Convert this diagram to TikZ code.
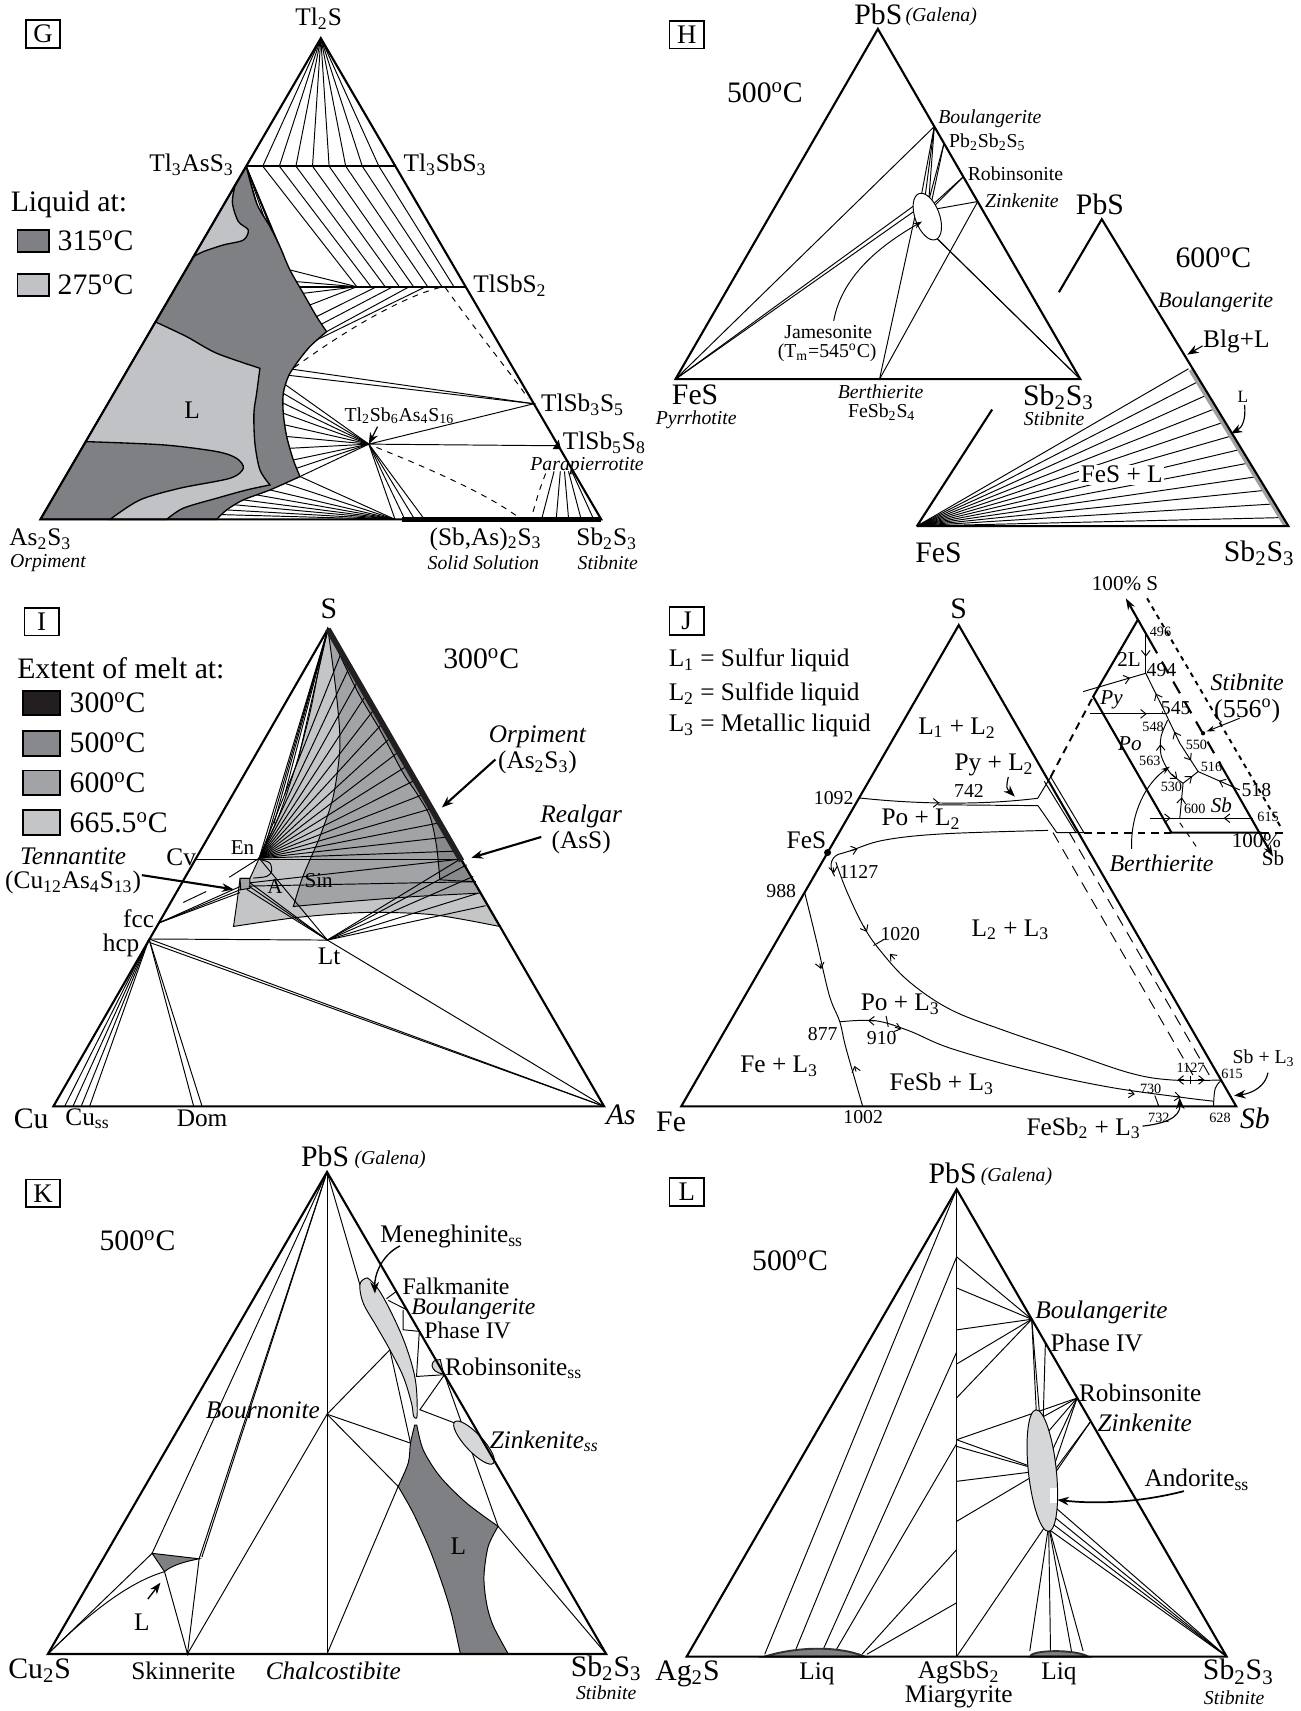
\documentclass[tikz,border=0pt]{standalone}
\usepackage{fontspec}
\setmainfont{Liberation Serif}
\usepackage{tikz}
\usetikzlibrary{arrows.meta,positioning,calc,decorations.markings}
\definecolor{liqdark}{RGB}{127,128,131}
\definecolor{liqlight}{RGB}{193,194,197}
\definecolor{meltblack}{RGB}{35,31,32}
\definecolor{meltfive}{RGB}{136,137,140}
\definecolor{meltsix}{RGB}{162,163,166}
\definecolor{meltsixsix}{RGB}{196,197,199}
\definecolor{ssfill}{RGB}{214,215,217}
\newcommand{\fsA}{\fontsize{15.5}{17}\selectfont}
\newcommand{\fsB}{\fontsize{13.2}{15}\selectfont}
\newcommand{\fsK}{\fontsize{12.4}{14}\selectfont}
\newcommand{\fsM}{\fontsize{11}{12.5}\selectfont}
\newcommand{\fsC}{\fontsize{10.3}{12}\selectfont}
\newcommand{\fsD}{\fontsize{7.4}{8.5}\selectfont}
\newcommand{\lo}[1]{\textsubscript{#1}}
\newcommand{\degC}{\textsuperscript{o}C}

\begin{document}
\begin{tikzpicture}[x=0.02cm,y=-0.02cm,
  every node/.style={inner sep=0.3pt},
  tri/.style={line width=1.1pt},
  tie/.style={line width=0.5pt},
  bnd/.style={line width=0.7pt},
  vtx/.style={font=\fsA},
  lbl/.style={font=\fsB},
  ilbl/.style={font=\fsB\itshape},
  klbl/.style={font=\fsK},
  kilbl/.style={font=\fsK\itshape},
  mlbl/.style={font=\fsM},
  milbl/.style={font=\fsM\itshape},
  slbl/.style={font=\fsC},
  sital/.style={font=\fsC\itshape},
  tnum/.style={font=\fsD},
  panel/.style={draw,line width=0.9pt,font=\fontsize{14}{16}\selectfont,inner sep=0pt,minimum width=18pt,minimum height=14.5pt},
  key/.style={draw,line width=0.9pt},
  ptr/.style={-{Stealth[length=6pt,width=4.5pt]},line width=0.9pt},
  tip/.style={line width=0.5pt,-{Straight Barb[length=2.8pt,width=4.5pt]}},
  fwd/.style={postaction={decorate,decoration={markings,mark=at position #1 with {\arrow{Straight Barb[length=2.8pt,width=4.5pt]}}}}},
  bwd/.style={postaction={decorate,decoration={markings,mark=at position #1 with {\arrowreversed{Straight Barb[length=2.8pt,width=4.5pt]}}}}}]
\fill[white] (0,0) rectangle (1192,1568);
\useasboundingbox (0,0) rectangle (1192,1568);

\node[panel] (boxG) at (39.5,31) {G};
\coordinate (gT) at (294,35);
\coordinate (gA) at (37,476);
\coordinate (gB) at (551,476);
\coordinate (gAs) at (225.6,152.3);
\coordinate (gSb) at (362.4,152.3);
\coordinate (gTlSbS) at (426.8,262.8);
\coordinate (gThree) at (489.2,370);
\coordinate (gFive) at (511.7,408.5);
\coordinate (gX) at (338,407);
\coordinate (gR) at (362,476);
\coordinate (gC) at (327,262.8);
\foreach \x/\y in {240.8/327,256/340,271.2/353,286.4/366,301.6/379,316.8/392,332/405,347.2/416}
  \draw[tie] (gT) -- (\x,152.3) -- (\y,262.8);
\foreach \x/\y in {235.2/186.3,241.3/197,247.4/207.7,252/216.9,256.5/226}
  \draw[tie] (gAs) -- ($(gAs)!1.12!(\x,\y)$);
\foreach \x/\y in {265.7/247.4,271.8/258.1,277.9/268.8,284/279.5}
  \draw[tie] (gC) -- ($(gC)!1.08!(\x,\y)$);
\draw[tri] (262,262.8) -- (gTlSbS);
\foreach \a/\x/\y in {345/290.1/290.1,360/294.7/297,375/299.3/303.9,390/291.7/310.8}
  \draw[tie] (\a,262.8) -- ($(\a,262.8)!1.06!(\x,\y)$);
\draw[tie,dashed] (403,263.5) .. controls (370,272) and (320,300) .. (268,338);
\draw[tie,dashed] (408,263.5) .. controls (440,308) and (468,342) .. (484,365);
\draw[tie] ($(gThree)!1.04!(268.9,338.5)$) -- (gThree) -- (gX) -- (gFive);
\draw[tie] ($(gThree)!1.04!(265,344)$) -- (gThree);
\foreach \x/\y in {261.9/352.8,259.6/360.4,259.6/369.5,259.6/378.7,261.2/389.4,262.7/400,265.8/410.8,268.8/421.5,271.9/429.1,274.9/436.7}
  \draw[tie] (gX) -- ($(gX)!1.06!(\x,\y)$);
\foreach \x/\y in {274.9/436.7,261/442.9,247.4/449,235/453.5,223/458.1,215/462.6,207.7/467.3,203/471.6}
  \draw[tie] (gR) -- ($(gR)!1.06!(\x,\y)$);
\foreach \x in {371,380,389} \draw[tie] (gX) -- (\x,476);
\draw[tie] (gX) -- (gR);
\draw[tie,dashed] (345,410) .. controls (400,432) and (450,455) .. (475,474);
\draw[tie,dashed] (500,434) .. controls (494,450) .. (487,474);
\foreach \a/\b in {507.8/496.3,513.5/509.7,517.3/521.1,521/532.6,524/544.1}
  \draw[tie] (\a,431.9) -- (\b,476);
\filldraw[fill=liqdark,bnd] (gAs) -- (gA) -- (198.5,476)
  -- plot[smooth,tension=0.5] coordinates {(198.5,476) (207.7,467.3) (223,458.1) (247.4,449) (274.9,436.7)}
  -- plot[smooth,tension=0.5] coordinates {(274.9,436.7) (268.8,421.5) (262.7,400) (259.6,378.7) (259.6,360.4) (264.2,345.1) (271.8,332.9) (284,317.6) (299.3,303.9)}
  -- plot[smooth,tension=0.5] coordinates {(299.3,303.9) (290.1,290.1) (277.9,268.8) (265.7,247.4) (256.5,226) (247.4,207.7) (235.2,186.3) (225.6,152.3)}
  -- cycle;
\filldraw[fill=liqlight,bnd] (215.3,170)
  -- plot[smooth,tension=0.5] coordinates {(215.3,170) (213,186) (218.4,203) (227.5,210.7) (223,220) (204.6,224.5) (186.3,230.6) (177.3,235.2)} -- cycle;
\filldraw[fill=liqlight,bnd] (142.5,295)
  -- plot[smooth,tension=0.5] coordinates {(142.5,295) (171,308.5) (198.5,323.7) (238.2,337.5)}
  -- plot[smooth,tension=0.5] coordinates {(238.2,337.5) (235.2,360.4) (232.7,378.7) (233.6,406.2) (238.2,430.6) (247.4,444.4)}
  -- plot[smooth,tension=0.5] coordinates {(247.4,444.4) (226,449) (198.5,456.6) (168,465.7) (152.7,476)}
  -- (100.8,476)
  -- plot[smooth,tension=0.5] coordinates {(100.8,476) (128.3,458.1) (164.9,447.4) (210.7,438.3) (223,429.1) (216.8,420) (198.5,413.8) (149.7,407.7) (78.5,404.7)}
  -- cycle;
\draw[tri] (gT) -- (gA) -- (gB) -- cycle;
\draw[tri] (gAs) -- (gSb);
\draw[line width=3pt] (368,476) -- (gB);
\fill (506.5,411.5) -- (514,411.5) -- (512,403) -- cycle;
\node[lbl] (gTlS) at (292,17) {Tl\lo{2}S};
\node[lbl,anchor=east] (gTlAsS) at (215,151) {Tl\lo{3}AsS\lo{3}};
\node[lbl,anchor=west] (gTlSbSt) at (369,151) {Tl\lo{3}SbS\lo{3}};
\node[lbl,anchor=west] (gTlSbSl) at (433,262) {TlSbS\lo{2}};
\node[lbl,anchor=west] (gThreel) at (495,371) {TlSb\lo{3}S\lo{5}};
\node[lbl,anchor=west] (gFivel) at (515,406) {TlSb\lo{5}S\lo{8}};
\node[sital] (gPara) at (538,427) {Parapierrotite};
\node[slbl] (gMix) at (366,381) {Tl\lo{2}Sb\lo{6}As\lo{4}S\lo{16}};
\draw[ptr,line width=0.6pt] (346,391) -- (gX);
\node[lbl] (gL) at (176,376) {L};
\node[lbl] (gAsl) at (37,494) {As\lo{2}S\lo{3}};
\node[sital] (gOrp) at (44,516) {Orpiment};
\node[lbl] (gSS) at (445,494) {(Sb,As)\lo{2}S\lo{3}};
\node[sital] (gSSi) at (443,516) {Solid Solution};
\node[lbl] (gSbl) at (556,494) {Sb\lo{2}S\lo{3}};
\node[sital] (gStib) at (557,516) {Stibnite};
\node[vtx,anchor=west] (gLeg) at (9,187) {Liquid at:};
\draw[key,fill=liqdark] (16,211) rectangle (45,231);
\node[vtx,anchor=west] (gKa) at (52,221) {315\degC};
\draw[key,fill=liqlight] (16,251) rectangle (45,271);
\node[vtx,anchor=west] (gKb) at (52,261) {275\degC};

\node[panel] (boxH) at (629.3,31.8) {H};
\coordinate (hP) at (804.5,26.5);
\coordinate (hF) at (619,347.5);
\coordinate (hS) at (990,347.5);
\coordinate (hBo) at (856.2,116);
\coordinate (hPb) at (865.1,131.3);
\coordinate (hRo) at (883,161.8);
\coordinate (hZi) at (896,184.7);
\coordinate (hBe) at (806,347.5);
\coordinate (hJ) at (849.8,198.5);
\draw[tie] (hF) -- (hBo);
\draw[tie] (hF) -- (841,186);
\draw[tie] (hF) -- (840,192);
\draw[tie] (hS) -- (850,210);
\draw[tie] (hS) -- (853,213);
\draw[tie] (hBe) -- (842,182);
\draw[tie] (hBe) -- (hZi);
\foreach \x in {843,847,851} \draw[tie] (hBo) -- (\x,186);
\foreach \x in {850,853} \draw[tie] (hPb) -- (\x,188);
\foreach \x in {852,855} \draw[tie] (hRo) -- (\x,190);
\draw[tie] (hZi) -- (855,192);
\draw[tie,fill=white,rotate around={20:(hJ)}] (hJ) ellipse [x radius=11.2, y radius=22.4];
\draw[tie,-{Stealth[length=4.5pt,width=3pt]}] (764,294) .. controls (772,250) and (812,222) .. (845,203);
\draw[tri] (hP) -- (hF) -- (hS) -- cycle;
\node[vtx] (hPbS) at (805,13) {PbS};
\node[sital,anchor=west] (hGal) at (829,15) {(Galena)};
\node[vtx] (hT) at (701,85) {500\degC};
\node[sital,anchor=west] (hBol) at (859,109) {Boulangerite};
\node[slbl,anchor=west] (hPbl) at (869,130) {Pb\lo{2}Sb\lo{2}S\lo{5}};
\node[slbl,anchor=west] (hRol) at (886,159) {Robinsonite};
\node[sital,anchor=west] (hZil) at (902,184) {Zinkenite};
\node[slbl] (hJam) at (759,304) {Jamesonite};
\node[slbl] (hTm) at (758,323) {(T\lo{m}=545\degC)};
\node[vtx] (hFeS) at (637,362) {FeS};
\node[sital] (hPyr) at (638,385) {Pyrrhotite};
\node[sital] (hBer) at (807,359) {Berthierite};
\node[slbl] (hFSS) at (808,378) {FeSb\lo{2}S\lo{4}};
\node[vtx] (hSbl) at (970,364) {Sb\lo{2}S\lo{3}};
\node[sital] (hStib) at (966,384) {Stibnite};
\coordinate (hFb) at (840.3,482.1);
\coordinate (hSb) at (1180.7,482.1);
\coordinate (hPc) at (1009.7,200.9);
\foreach \k in {0,...,11}
  \draw[tie] (hFb) -- ({1093.1+\k*12.4*0.608-4},{338+\k*12.4});
\draw[line width=2.2pt,color=gray!75] (1091,339) -- (1178,481.5);
\draw[tri] (hFb) -- (909.2,375.3);
\draw[tri] (970.4,267.8) -- (hPc) -- (hSb) -- (hFb);
\node[vtx] (hPbSb) at (1008,187) {PbS};
\node[vtx] (hTb) at (1112,236) {600\degC};
\node[font=\fontsize{11.5}{13}\selectfont\itshape] (hBolb) at (1114,277) {Boulangerite};
\node[lbl] (hBlg) at (1133,313) {Blg+L};
\draw[ptr,line width=0.6pt] (1102,317) -- (1088,325);
\node[font=\fontsize{9}{10}\selectfont] (hLs) at (1139,364) {L};
\draw[ptr,line width=0.6pt] (1140.5,371) .. controls (1142,385) and (1138,392) .. (1128,397.5);
\node[lbl,fill=white,inner sep=0.8pt] (hFL) at (1028,435) {FeS + L};
\node[vtx] (hFeSb) at (860,507) {FeS};
\node[vtx] (hSbb) at (1154,507) {Sb\lo{2}S\lo{3}};

\node[panel] (boxI) at (38.2,569.7) {I};
\coordinate (iS) at (300.5,576.5);
\coordinate (iCu) at (48.9,1013.9);
\coordinate (iAs) at (553.6,1013.9);
\coordinate (iCv) at (178.6,787.3);
\coordinate (iEn) at (237.5,786.5);
\coordinate (iRg) at (421.8,787.3);
\coordinate (iLt) at (300,861.5);
\coordinate (ifcc) at (145,846);
\coordinate (ihcp) at (136.6,860.5);
\filldraw[fill=meltsixsix,line width=0.5pt] (300.5,576.5)
  -- plot[smooth,tension=0.5] coordinates {(300.5,576.5) (293.2,607.7) (284,653.5) (271.8,699.4) (256.5,745.2) (244.3,772.7) (237.5,786.5)}
  -- (229,805) -- (220,805) -- (217,828) -- (214,849)
  -- plot[smooth,tension=0.5] coordinates {(214,849) (274.9,840.5) (335.9,836.2) (397,838.3) (457.7,849)} -- cycle;
\filldraw[fill=meltsix,line width=0.5pt] (300.5,576.5)
  -- plot[smooth,tension=0.5] coordinates {(300.5,576.5) (308.5,638.3) (311.5,684.1) (305.4,729.9) (293.2,766.5) (284,788) (276.4,806.3) (268.8,830.7)}
  -- plot[smooth,tension=0.5] coordinates {(268.8,830.7) (320.7,826.1) (381.8,821.5) (440.1,818.5)} -- cycle;
\filldraw[fill=meltfive,line width=0.5pt] (300.5,576.5)
  -- plot[smooth,tension=0.5] coordinates {(300.5,576.5) (326.8,632.2) (348.2,668.8) (369.5,708.5) (381.8,726.9) (394,748.2) (400.1,775.7) (403.1,806.3)}
  -- (434,808) -- cycle;
\filldraw[fill=meltsix,line width=0.5pt] (220,805) -- (229,805) -- (229,814) -- (220.5,815.4) -- cycle;
\foreach \x/\y in {237.5/786.5,244/772,251/755,261/728,274/693} \draw[tie] (iS) -- (\x,\y);
\foreach \y in {598,611,624,637,650,663,676,689,702,715,728,741,754,767,780}
  \draw[tie] (iEn) -- ({300.5+(\y-576.5)*0.577},\y);
\foreach \x/\y in {421.8/787.3,427.6/792.5,433.7/803.2,438.3/818.5,445/830} \draw[tie] (iLt) -- (\x,\y);
\draw[tie] (iEn) -- (iLt);
\draw[tie] (iEn) -- (210,804);
\foreach \x/\y in {229/809,228/812,226/815} \draw[tie] (\x,\y) -- (iLt);
\draw[tie] (229,809) -- (iRg);
\draw[tie] (229,812) -- (436,808);
\foreach \x/\y in {221/812,221/815,220/818} \draw[tie] (ifcc) -- (\x,\y);
\draw[tie] (168,827) -- (189,817);
\draw[tie] (ihcp) -- (iLt);
\draw[tie] (ihcp) -- (iAs);
\draw[tie] (138,864) -- (iAs);
\draw[tie] (iLt) -- (iAs);
\foreach \x in {59.2,66.8,74.4,82.1,177.5,185.2} \draw[tie] (ihcp) -- (\x,1013.9);
\draw[tie] (iCv) -- (iRg);
\draw[tie] plot[smooth] coordinates {(239.7,788) (247.4,791) (248.9,798.6) (244.3,803.2) (232.1,804.7)};
\draw[tri] (iS) -- (iCu) -- (iAs) -- cycle;
\draw[line width=3pt,color=meltblack] (iS) -- (423,789);
\draw[ptr,line width=1.1pt] (454,696) -- (405,740);
\draw[ptr,line width=1.1pt] (496,767) -- (432,786);
\draw[ptr,line width=1.1pt] (130,802) -- (214,815);
\node[vtx] (iSl) at (301.5,558) {S};
\node[vtx] (iT) at (441,604) {300\degC};
\node[vtx,anchor=west] (iLeg) at (15,612) {Extent of melt at:};
\draw[key,fill=meltblack] (21,633) rectangle (55,655);
\node[vtx,anchor=west] (iKa) at (63,644) {300\degC};
\draw[key,fill=meltfive] (21,670) rectangle (55,692.5);
\node[vtx,anchor=west] (iKb) at (63,681) {500\degC};
\draw[key,fill=meltsix] (21,706) rectangle (55,728.5);
\node[vtx,anchor=west] (iKc) at (63,717) {600\degC};
\draw[key,fill=meltsixsix] (21,742.5) rectangle (55,765);
\node[vtx,anchor=west] (iKd) at (63,754) {665.5\degC};
\node[ilbl] (iOrp) at (492.5,675) {Orpiment};
\node[lbl] (iOrpF) at (492.5,699) {(As\lo{2}S\lo{3})};
\node[ilbl] (iReal) at (532.6,748) {Realgar};
\node[lbl] (iRealF) at (532.6,772) {(AsS)};
\node[ilbl] (iTen) at (67,785) {Tennantite};
\node[lbl] (iTenF) at (67,809) {(Cu\lo{12}As\lo{4}S\lo{13})};
\node[lbl] (iCvl) at (166,786) {Cv};
\node[mlbl] (iEnl) at (222.3,777) {En};
\node[mlbl] (iAl) at (252,812.4) {A};
\node[mlbl] (iSinl) at (292,807) {Sin};
\node[lbl] (ifccl) at (127,842) {fcc};
\node[lbl] (ihcpl) at (111,866) {hcp};
\node[lbl] (iLtl) at (301.6,876.6) {Lt};
\node[vtx] (iCul) at (28.6,1025.3) {Cu};
\node[lbl] (iCss) at (80.2,1025.3) {Cu\lo{ss}};
\node[lbl] (iDom) at (185.2,1025.3) {Dom};
\node[vtx,font=\fsA\itshape] (iAsl) at (569,1022) {As};

\node[panel] (boxJ) at (629.3,568.9) {J};
\coordinate (jS) at (878.6,572.9);
\coordinate (jFe) at (624.3,1013.9);
\coordinate (jSb) at (1132.9,1013.9);
\coordinate (jA) at (787,731.2);
\coordinate (jFeS) at (758.4,781.3);
\coordinate (jB) at (737.4,817.8);
\coordinate (jC) at (769.6,936.4);
\coordinate (jD) at (790.6,1013.9);
\draw[tie,fwd=0.45] (jA) .. controls (840,737) and (900,738) .. (951.2,731.5);
\draw[tie] (859.5,737.5) -- (951.2,738.3);
\draw[tie] (951.2,738.3) -- (968.4,763) -- (993.3,763) -- (962.9,711.9) -- (951.2,731.2);
\draw[tie] (957,716) -- (986,763);
\draw[line width=1pt,dash pattern=on 4pt off 3pt] (962.9,711.9) -- (1001.8,638.3);
\draw[line width=1pt,dash pattern=on 4pt off 3pt] (993.3,763) -- (1073.5,763);
\draw[line width=1pt,dash pattern=on 4pt off 3pt] (1156,763) -- (1177,763);
\draw[tie,dash pattern=on 6pt off 4pt] (965,763) -- (1096,990);
\draw[tie,dash pattern=on 6pt off 4pt] (980,763) -- (1111,990);
\draw[tie] plot[smooth,tension=0.6] coordinates {(768,783) (779.2,779.7) (809.7,770) (863.3,764.2) (960.5,761)};
\draw[tip] (779,779.8) -- (786,777.7);
\draw[tie] (768,783) .. controls (760,787) and (760,796) .. (765,803);
\draw[tip] (763.5,795) -- (764.3,800);
\draw[tie] plot[smooth,tension=0.6] coordinates {(766,790) (775.3,815.2) (790.6,847.5) (805.9,870.2) (832.7,899.2) (870.9,925.1) (920.6,944.5) (978,963.9) (1035.4,983.3) (1073.6,989.7) (1119.5,989.7)};
\draw[tip] (791.6,848.8) -- (794.5,854);
\draw[tip] (820,879) -- (815.5,874.1);
\draw[tie] (800.5,866.5) -- (810,861);
\draw[tie] (1090.8,986) -- (1090.8,993.5);
\draw[tip] (1085,989.7) -- (1079,989.7);
\draw[tip] (1098,989.7) -- (1104,989.7);
\draw[tie] plot[smooth,tension=0.6] coordinates {(jB) (748.6,863.7) (760,912.2) (jC) (775.3,960.6) (jD)};
\draw[tip] (751.3,883) -- (752.4,888);
\draw[tip] (784.5,982) -- (783,976.8);
\draw[tie] plot[smooth,tension=0.6] coordinates {(jC) (802.1,935.4) (832.7,944.5) (870.9,960.6) (939.8,980) (1016.2,996.2) (1085.1,1005.9) (1111.8,1009.1)};
\draw[tip] (801,935.5) -- (795.5,935.3);
\draw[tie] (812,931) -- (814,941);
\draw[tip] (820,941.3) -- (826,943.1);
\draw[tip] (1034,1001.9) -- (1040,1002.7);
\draw[tip] (1076,1004.7) -- (1082,1005.5);
\draw[tie] (1119.5,989.7) .. controls (1113,996) .. (1112,1013.9);
\draw[tie] (1058.3,1004) -- (1062,1013.9);
\draw[tri] (jS) -- (jFe) -- (jSb) -- cycle;
\fill (jFeS) circle [radius=3.2];
\coordinate (jIa) at (1043,567.5);
\coordinate (jIb) at (1001.8,638.3);
\coordinate (jIc) at (1073.5,763);
\coordinate (jId) at (1156,763);
\draw[tri] (jIa) -- (jIb) -- (jIc) -- (jId);
\draw[line width=1pt,dash pattern=on 2.5pt off 2.5pt] (1051.2,548.3) -- (1175.2,760.5);
\draw[tri,{Stealth[length=6pt,width=4pt]}-] (1031.7,548.3) -- (1054.3,588);
\draw[tri,dash pattern=on 7pt off 5pt] (1054.3,588) -- (1121.3,705.5);
\draw[tri,-{Stealth[length=6pt,width=4pt]}] (1121.3,705.5) -- (1166.6,785);
\draw[tie,fwd=0.6] (1050,578.8) -- (1050,617);
\draw[tie,fwd=0.75] (992.6,633.8) -- (1050,617);
\draw[tie,bwd=0.5] (1050,617) -- (1068.3,654.2);
\draw[tie,fwd=0.75] (998.7,654.2) -- (1068.3,654.2);
\draw[tie,bwd=0.3,fwd=0.8] (1068.3,654.2) -- (1081.2,681.1) -- (1098,707.1);
\draw[tie] plot[smooth] coordinates {(1070,660) (1064,675) (1064,692) (1072,708) (1084.2,717.8)};
\draw[tip] (1063.7,688) -- (1063.5,682);
\draw[tip] (1074,709.6) -- (1079,713.8);
\draw[tie,fwd=0.6] (1084.2,717.8) -- (1098,707.1);
\draw[tie,fwd=0.6] (1081.2,749.8) -- (1084.2,717.8);
\draw[tie,fwd=0.5] (1136.1,723.9) -- (1098,707.1);
\draw[tie,fwd=0.4] (1148.4,749.8) -- (1081,749.8);
\draw[tie,fwd=0.7] (1053.7,749.8) -- (1081,749.8);
\draw[tie,dashed] (1081.2,754) -- (1096.4,776);
\draw[tie,-{Stealth[length=4.5pt,width=3pt]}] (1037,778) .. controls (1036,745) and (1050,718) .. (1072,702.5);
\fill (1102.5,672) circle [radius=2];
\draw[tie,-{Stealth[length=4.5pt,width=3pt]}] (1136.1,658.2) -- (1105.6,670.4);
\node[vtx] (jSl) at (878.6,558) {S};
\node[vtx] (jFel) at (615,1028) {Fe};
\node[vtx,font=\fsA\itshape] (jSbl) at (1150,1025) {Sb};
\node[lbl,anchor=west] (jLa) at (612,605) {L\lo{1} = Sulfur liquid};
\node[lbl,anchor=west] (jLb) at (612,636) {L\lo{2} = Sulfide liquid};
\node[lbl,anchor=west] (jLc) at (612,665) {L\lo{3} = Metallic liquid};
\node[lbl] (jRa) at (877,667) {L\lo{1} + L\lo{2}};
\node[lbl] (jRb) at (911,701) {Py + L\lo{2}};
\node[lbl] (jRc) at (844,751) {Po + L\lo{2}};
\node[lbl] (jRd) at (926,852) {L\lo{2} + L\lo{3}};
\node[lbl] (jRe) at (825,920) {Po + L\lo{3}};
\node[lbl] (jRf) at (714,977) {Fe + L\lo{3}};
\node[lbl] (jRg) at (863,993) {FeSb + L\lo{3}};
\draw[ptr,line width=0.6pt] (924,712) .. controls (922,722) .. (930,730);
\node[slbl] (jNa) at (764,731) {1092};
\node[lbl] (jFeSl) at (739,770) {FeS};
\node[slbl] (jNb) at (716,817) {988};
\node[slbl] (jNc) at (888,725) {742};
\node[slbl] (jNd) at (787,799) {1127};
\node[slbl] (jNe) at (825,856) {1020};
\node[slbl] (jNf) at (754,948) {877};
\node[slbl] (jNg) at (808,951) {910};
\node[slbl] (jNh) at (791,1024) {1002};
\node[tnum] (jNi) at (1091,979) {1127};
\node[tnum] (jNj) at (1054.5,998) {730};
\node[tnum] (jNk) at (1062,1024) {732};
\node[tnum] (jNl) at (1129,984) {615};
\node[tnum] (jNm) at (1118,1024) {628};
\node[slbl] (jSbL) at (1158,970) {Sb + L\lo{3}};
\draw[ptr,line width=0.6pt] (1162,983) .. controls (1160,995) and (1148,1002) .. (1131,1004);
\node[lbl] (jFeSb) at (993,1034) {FeSb\lo{2} + L\lo{3}};
\draw[ptr,line width=0.6pt] (1047,1032) .. controls (1065,1030) and (1082,1025) .. (1081,1006);
\node[mlbl] (jSh) at (1031,534.5) {100\% S};
\node[tnum] (jIna) at (1063.5,578.8) {496};
\node[mlbl] (jTwoL) at (1034.7,604) {2L};
\node[slbl] (jInb) at (1064.4,614) {494};
\node[milbl] (jPy) at (1018.6,641.4) {Py};
\node[slbl] (jInc) at (1077.5,649) {545};
\node[tnum] (jInd) at (1056.7,665.8) {548};
\node[milbl] (jPo) at (1035.4,681.1) {Po};
\node[tnum] (jIne) at (1096.4,682.6) {550};
\node[tnum] (jInf) at (1053.7,697) {563};
\node[tnum] (jIng) at (1110.2,703.1) {516};
\node[tnum] (jInh) at (1073.5,720.8) {530};
\node[slbl] (jIni) at (1151.4,723.9) {518};
\node[tnum] (jInj) at (1094.9,741.6) {600};
\node[milbl] (jSbI) at (1119.3,737.6) {Sb};
\node[tnum] (jInk) at (1162.1,748.9) {615};
\node[font=\fontsize{12.5}{14}\selectfont\itshape] (jStib) at (1143,625) {Stibnite};
\node[font=\fontsize{13.5}{15}\selectfont] (jStibT) at (1143,652) {(556\textsuperscript{o})};
\node[font=\fontsize{12.5}{14}\selectfont\itshape] (jBer) at (1064.4,791) {Berthierite};
\node[mlbl] (jSbh) at (1151.4,770) {100\%};
\node[mlbl] (jSbs) at (1166.7,787) {Sb};

\node[panel] (boxK) at (39.5,1093.6) {K};
\coordinate (kP) at (299.7,1074);
\coordinate (kC) at (43.9,1515.7);
\coordinate (kS) at (555.5,1515.7);
\coordinate (kCh) at (299.7,1515.7);
\coordinate (kBn) at (299.7,1296);
\coordinate (kSk) at (171.8,1515.7);
\coordinate (kTa) at (139.4,1423.5);
\coordinate (kTb) at (182.5,1428.5);
\coordinate (kTc) at (150.8,1440.3);
\coordinate (kFa) at (363.1,1183.5);
\coordinate (kBo) at (372.8,1200.3);
\coordinate (kPf) at (384.3,1220.1);
\coordinate (kRo) at (407.3,1259.8);
\coordinate (kLl) at (364.9,1362.2);
\coordinate (kLt) at (376.2,1322.5);
\coordinate (kLr) at (456.5,1398.8);
\draw[tie] (kP) -- (kCh);
\draw[tie] (kP) -- (kTa);
\draw[tie] (kP) -- (kTb);
\draw[tie] (kP) -- (185,1427);
\draw[tie] (kTb) -- (kSk) -- (kTc);
\draw[tie] (kC) -- (kTa);
\draw[tie] (kC) .. controls (95,1465) and (128,1447) .. (kTc);
\filldraw[fill=liqdark,line width=0.5pt] (kTa) -- (kTb) .. controls (170,1431) and (158,1434) .. (kTc) -- cycle;
\draw[tie] (kSk) -- (kBn);
\draw[tie] (kBn) -- (357.3,1237);
\draw[tie] (kBn) -- (kLt);
\draw[tie] (kBn) -- (kLl);
\draw[tie] (kCh) -- (kLl);
\draw[tie] (kP) -- (330,1178);
\draw[tie] (357.3,1237) -- (kLt);
\draw[tie] (354.2,1190.2) -- (kFa);
\draw[tie] (355.8,1191.7) -- (kBo);
\draw[tie] (369.5,1200.3) -- (369.5,1218.6) -- (kPf);
\draw[tie] (kPf) -- (381.7,1261.4) -- (kRo) -- (384.8,1291.9) -- (416.8,1304.1);
\draw[tie] (kRo) -- (kLr) -- (kS);
\filldraw[fill=liqdark,line width=0.5pt] (380,1306)
  -- plot[smooth,tension=0.5] coordinates {(380,1306) (376.2,1322.5) (374.1,1340.8) (364.9,1362.2)}
  -- plot[smooth,tension=0.5] coordinates {(364.9,1362.2) (378.7,1386.6) (393.9,1420.2) (406.1,1453.8) (414,1480) (421.9,1515.7)}
  -- (465.8,1515.7)
  -- plot[smooth,tension=0.5] coordinates {(465.8,1515.7) (452,1490) (446,1470) (443.5,1445) (447.4,1417.1) (456.5,1398.8)}
  -- plot[smooth,tension=0.5] coordinates {(456.5,1398.8) (427.5,1377.4) (403.1,1353) (387.8,1328.6) (382,1306)} -- cycle;
\filldraw[fill=ssfill,line width=0.5pt] plot[smooth cycle,tension=0.6] coordinates {(329.8,1177.4) (335,1171.5) (339,1172.8) (348.1,1183.5) (360.3,1206.4) (371,1230.8) (378.7,1255.3) (381.7,1273.6) (382.3,1296.5) (380.5,1299.5) (378.7,1296.5) (377.1,1285.8) (369.5,1261.4) (357.3,1237) (345.1,1215.6) (332.9,1194.2)};
\filldraw[fill=ssfill,line width=0.5pt] (403.5,1246) .. controls (393,1245) and (393,1258) .. (406.5,1259) -- cycle;
\filldraw[fill=ssfill,line width=0.5pt,rotate around={-47:(434.4,1322)}] (434.4,1322) ellipse [x radius=26, y radius=8];
\draw[tri] (kP) -- (kC) -- (kS) -- cycle;
\draw[ptr,line width=0.7pt] (366.5,1141.8) .. controls (350,1150) and (343,1168) .. (343.6,1185.4);
\draw[ptr,line width=0.7pt] (135.5,1465.4) -- (147,1450.4);
\node[vtx] (kPbS) at (298,1060) {PbS};
\node[sital,anchor=west] (kGal) at (324,1063) {(Galena)};
\node[vtx] (kT) at (126,1137) {500\degC};
\node[lbl] (kMen) at (414,1133.4) {Meneghinite\lo{ss}};
\node[klbl,anchor=west] (kFal) at (368,1179) {Falkmanite};
\node[kilbl,anchor=west] (kBol) at (376,1199) {Boulangerite};
\node[klbl,anchor=west] (kPfl) at (388,1219.5) {Phase IV};
\node[lbl,anchor=west] (kRol) at (407,1254) {Robinsonite\lo{ss}};
\node[ilbl,anchor=west] (kZil) at (448,1321) {Zinkenite\lo{ss}};
\node[ilbl,anchor=east] (kBnl) at (294,1292.7) {Bournonite};
\node[lbl] (kLa) at (420,1417) {L};
\node[lbl] (kLb) at (130,1487) {L};
\node[vtx] (kCul) at (36.3,1530.8) {Cu\lo{2}S};
\node[lbl] (kSkl) at (168,1530.8) {Skinnerite};
\node[ilbl] (kChl) at (305.4,1530.8) {Chalcostibite};
\node[vtx] (kSbl) at (555.5,1529) {Sb\lo{2}S\lo{3}};
\node[sital] (kStib) at (555.5,1551) {Stibnite};

\node[panel] (boxL) at (629.3,1092.3) {L};
\coordinate (lP) at (876.7,1089.8);
\coordinate (lA) at (629.3,1518.1);
\coordinate (lS) at (1124.1,1518.1);
\coordinate (lM) at (876.7,1518.1);
\coordinate (lBo) at (945.5,1209);
\coordinate (lPf) at (958,1230.8);
\coordinate (lRo) at (987,1281.2);
\coordinate (lZi) at (999.5,1302.6);
\coordinate (lE) at (955.2,1347.7);
\draw[tie] (lP) -- (lM);
\foreach \a/\b in {1089.8/700.8,1151.8/727.5,1239/752.4,1322.9/763.9,1420.1/790,1468.8/794.4}
  \draw[tie] (876.7,\a) -- (\b,1516);
\foreach \a in {1151.8,1180.3,1218.7,1250,1281} \draw[tie] (876.7,\a) -- (lBo);
\draw[tie] (876.7,1319.4) -- (lRo);
\foreach \a in {1319.4,1325.5,1357.5,1394.2} \draw[tie] (876.7,\a) -- (lE);
\draw[tie] (lM) -- (957,1400);
\draw[tie] (lBo) -- (950,1300);
\draw[tie] (lBo) -- (953,1300);
\draw[tie] (lPf) -- (956,1300);
\foreach \x/\y in {952.9/1300,958/1315,962/1334,963/1352} \draw[tie] (lRo) -- (\x,\y);
\foreach \x/\y in {962/1357,963/1352} \draw[tie] (lZi) -- (\x,\y);
\foreach \x/\y in {962/1377,961/1386,960/1393,959/1400} \draw[tie] (\x,\y) -- (lS);
\foreach \b in {943.7,962.7,981.9,992.6} \draw[tie] (961,1398) -- (\b,1513);
\filldraw[fill=ssfill,line width=0.5pt,rotate around={6:(lE)}] (lE) ellipse [x radius=12.8, y radius=56];
\fill[white] (962.5,1364) rectangle (969,1377);
\draw[ptr,line width=0.9pt] (1085,1366.5) .. controls (1040,1378) and (1000,1378) .. (969,1374.5);
\filldraw[fill=liqdark,draw=black!80,line width=1pt] (700.8,1518.1) .. controls (730,1509) and (768,1508) .. (792.5,1518.1) -- cycle;
\filldraw[fill=liqdark,draw=black!80,line width=1pt] (944.3,1518.1) .. controls (944,1512) and (985,1511) .. (997.1,1518.1) -- cycle;
\draw[tri] (lP) -- (lA) -- (lS) -- cycle;
\node[vtx] (lPbS) at (873,1075) {PbS};
\node[sital,anchor=west] (lGal) at (898,1078) {(Galena)};
\node[vtx] (lT) at (724,1155) {500\degC};
\node[ilbl,anchor=west] (lBol) at (948,1203) {Boulangerite};
\node[lbl,anchor=west] (lPfl) at (962,1231) {Phase IV};
\node[lbl,anchor=west] (lRol) at (988,1276) {Robinsonite};
\node[ilbl,anchor=west] (lZil) at (1005,1304) {Zinkenite};
\node[lbl,anchor=west] (lAnd) at (1048,1356) {Andorite\lo{ss}};
\node[vtx] (lAgl) at (630,1534) {Ag\lo{2}S};
\node[lbl] (lLqa) at (748.6,1534) {Liq};
\node[lbl] (lLqb) at (970.4,1534) {Liq};
\node[lbl] (lAgSb) at (878.6,1533) {AgSbS\lo{2}};
\node[lbl] (lMia) at (878.6,1555) {Miargyrite};
\node[vtx] (lSbl) at (1134.8,1532) {Sb\lo{2}S\lo{3}};
\node[sital] (lStib) at (1131,1556) {Stibnite};
\end{tikzpicture}
\end{document}
